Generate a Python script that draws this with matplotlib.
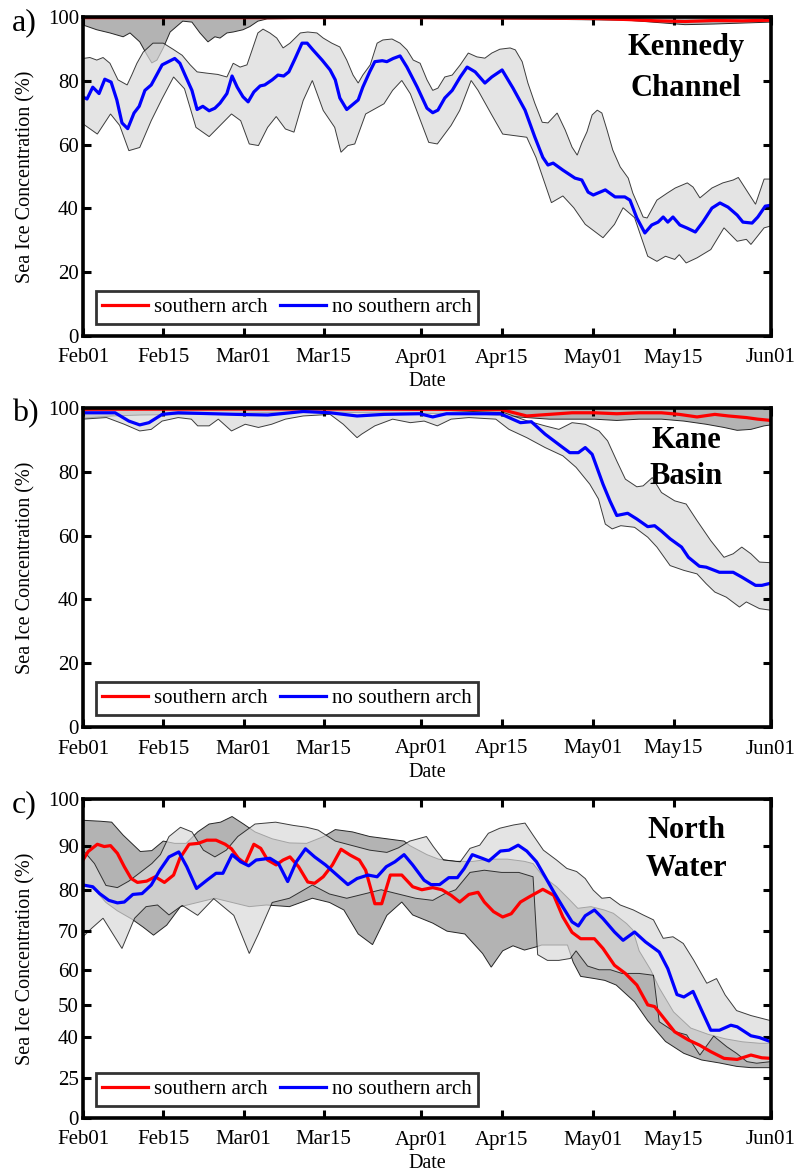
import numpy as np
import matplotlib
matplotlib.use("Agg")
import matplotlib.pyplot as plt

# ---------------- data (days after Feb01; values in %) ----------------
tick_days = [0, 14, 28, 42, 59, 73, 89, 103, 120]
tick_labels = ["Feb01", "Feb15", "Mar01", "Mar15", "Apr01", "Apr15", "May01", "May15", "Jun01"]

# Panel a: Kennedy Channel
a_blue_d = [0, 0.7, 1.7, 2.8, 3.8, 4.9, 5.9, 6.8, 7.8, 8.9, 9.8, 10.8, 11.9, 12.9, 13.8, 16, 16.9, 17.8, 19, 19.9,
            20.9, 22, 23, 23.9, 25.1, 26, 26.9, 27.9, 28.8, 29.8, 30.9, 31.7, 33, 34, 35, 35.9, 37, 38.2, 39.1, 40.1,
            41.7, 43.1, 44, 44.8, 46, 48, 48.8, 50, 50.9, 52.2, 53, 54.1, 55.3, 56.5, 58.3, 60, 61, 61.9, 63.1, 64.4,
            65.8, 67, 68.4, 70.1, 71.3, 73.1, 75, 77.1, 78.8, 80.2, 81.1, 82, 83.7, 85.8, 87, 88.1, 89, 91.1, 92.8, 94.5,
            95.4, 96.6, 98, 99.2, 100.3, 101.2, 102, 102.9, 104.1, 105.4, 106.8, 108.1, 109.7, 111.1, 112.5, 114.1,
            115.1, 116.7, 117.7, 119, 120]
a_blue_v = [74.9, 74.3, 78, 76, 80.5, 79.6, 74, 66.8, 65, 69.9, 72, 77, 78.7, 82, 85, 87, 85.5, 81.8, 77, 71,
            72, 70.6, 71.4, 73, 76, 81.5, 78, 75, 73.4, 76.5, 78.4, 78.7, 80.3, 81.8, 81.5, 82.8, 87, 91.8, 91.8, 89.7,
            86.5, 83.4, 80.3, 74.6, 71, 74, 78, 82.8, 86, 86.3, 86, 87, 87.8, 84.3, 78, 71.4, 70, 70.8, 74.6, 77,
            81.2, 84.3, 82.8, 79.3, 81.2, 83.4, 77.7, 70.8, 62.4, 56, 53.6, 54.2, 52, 49.5, 48.9, 45.1, 44.2, 45.8, 43.6, 43.6,
            42.6, 37, 32.3, 34.8, 35.7, 37.3, 35.7, 37.3, 34.8, 33.8, 32.6, 35.7, 40.1, 41.7, 40.4, 37.9,
            35.7, 35.4, 37.3, 40.7, 41]
a_bup_d = [0, 1.2, 2.4, 3.5, 4.7, 6.1, 7.7, 8.5, 9.4, 10.5, 12.2, 14, 15.7, 17.3, 18.7, 19.9, 21.6, 23.5, 25.1, 26.2,
           27.4, 28.6, 29.5, 30.5, 31.4, 32.6, 33.8, 34.9, 36.1, 37.9, 39.2, 40.8, 41.9, 43.4, 44.8, 46, 47.1, 48, 48.8,
           50.1, 51.3, 52.3, 53.9, 55.3, 56.5, 57.6, 58.8, 60, 61, 61.9, 63.1, 64.4, 65.8, 67.2, 68.7, 70.1, 71.3, 72.7,
           74.5, 75.4, 76.6, 77.6, 78.8, 80.1, 81.1, 82.7, 84.1, 85.3, 86.2, 87, 87.9, 88.8, 89.7, 90.5, 91.4, 92.4,
           93.7, 95.1, 95.9, 97.7, 98.4, 100.1, 101.9, 103.3, 105.4, 106.4, 107.6, 109.7, 111.6, 113.4, 114.3, 117.3,
           118.8, 120]
a_bup_v = [87, 87.3, 86.5, 87.3, 85.5, 80.3, 78.7, 81.8, 85.5, 89, 91.8, 91.8, 89.9, 88, 85, 82.8, 82.4, 82, 81.2, 85.5,
           84.3, 85, 89.7, 95, 96.2, 95, 93.4, 90.3, 91.8, 95, 95.3, 95, 93.4, 91.8, 90.6, 86.5, 81.8, 79.3, 81.8,
           85, 91.8, 92.8, 93.1, 91.8, 89.7, 86.5, 85.5, 80.3, 77, 77.7, 81.2, 81.8, 85, 88.7, 87.5, 87.1, 88.7, 89.9,
           90.3, 89.7, 86, 79.3, 73, 67, 66.8, 69.9, 64.6, 59.2, 56.7, 60.5, 64, 69.3, 70.8, 69.9, 64.6, 58.3,
           53, 49.5, 44.8, 37.3, 37, 42.6, 44.8, 46.4, 48, 46.7, 43.3, 46.4, 48, 48.9, 49.7, 41.3,
           49.2, 49.2]
a_blow_d = [0, 2.5, 4.8, 6.4, 8, 9.9, 11.9, 13.8, 15.8, 17.7, 19.7, 22, 25.9, 27.5, 29, 30.6, 32.2, 33.7, 35.3, 36.8,
            38.4, 40, 41.9, 43.9, 45, 46.2, 47.4, 49.3, 52.5, 54, 55.6, 57.1, 60.3, 61.8, 64.2, 65.7, 67.7, 68.9, 71.2,
            73.2, 77.4, 79, 81.7, 83.7, 85.6, 87.6, 90.7, 92.7, 94.2, 96.2, 98.5, 100.1, 101.6, 103.2, 104, 105.2,
            107.1, 109.5, 111.8, 114.1, 115.7, 116.5, 118.8, 120]
a_blow_v = [66.5, 63.3, 69.6, 66, 58.1, 59.1, 67.5, 74.4, 81.2, 77.5, 65.4, 62.5, 69.6, 67.5, 60.2, 59.7, 65.4, 68.8, 64.9, 63.9,
            73.8, 80.1, 70.7, 65.4, 57.6, 59.7, 60.2, 69.6, 72.8, 77, 80.1, 75.9, 60.7, 60.2, 66, 70.7, 80.1, 77, 69.6,
            63.3, 62.3, 56, 41.8, 43.9, 40.2, 35, 30.8, 35, 40.2, 37.1, 25, 23.4, 25, 24, 25.5, 22.9,
            24.5, 27.1, 33.9, 29.7, 30.3, 28.7, 33.9, 34.5]
a_red_d = [0, 20, 40, 60, 80, 90, 95, 100, 105, 110, 115, 120]
a_red_v = [99.8, 99.8, 99.8, 99.8, 99.7, 99.5, 99.2, 98.8, 98.6, 98.9, 98.8, 99.0]
a_rup_d = [0, 120]
a_rup_v = [100, 100]
a_rlow_d = [0, 2.4, 4.7, 7, 8.2, 9.9, 11.2, 12, 12.9, 14, 15.2, 17.4, 19, 20.4, 21.8, 23, 23.9, 25.1, 26.2, 27.9,
            29.1, 30.5, 32.1, 40, 60, 80, 95, 100, 105, 110, 115, 120]
a_rlow_v = [97.5, 96, 95, 93.8, 95, 92.2, 88, 85.6, 86.5, 90.3, 95.3, 98.7, 98.4, 95, 92.2, 93.8, 93.4, 95, 95.3, 96,
            97, 98.7, 99.4, 99.6, 99.5, 99.3, 99, 98.3, 97.6, 97.8, 98.1, 98.4]

# Panel b: Kane Basin
b_blue_d = [0, 5.6, 8, 9.9, 11.5, 13.8, 16.6, 26.7, 32.2, 38.4, 43.1, 47.8, 52.5, 58.7, 61, 63.4, 72.8, 76.3, 78.2,
            80.6, 83.7, 84.9, 86.4, 87.6, 88.8, 90.7, 91.9, 93.1, 95, 96.6, 98.5, 99.7, 100.9, 102.4, 104.4, 105.6,
            107.5, 108.7, 111, 113.4, 114.9, 117.3, 118.4, 120]
b_blue_v = [98.5, 98.5, 95.9, 94.7, 95.4, 98, 98.5, 98, 97.8, 98.9, 98.5, 97.5, 98, 98.2, 97.2, 98.2, 98.2, 95.4, 95.7,
            91.8, 87.6, 86, 86, 87.6, 85.5, 76.1, 70.9, 66.3, 67, 65.2, 62.8, 63.1, 61.4, 59, 56.4, 53.2,
            50.4, 50.1, 48.5, 48.5, 47, 44.4, 44.4, 45.1]
b_bup_d = [0, 20, 40, 60, 73.5, 77.4, 80.6, 83, 85.3, 87.6, 90, 91.5, 93.1, 94.6, 96.6, 97.7, 99.3, 100.9, 103.2,
           105.2, 107.1, 109.5, 111.8, 113.4, 114.9, 116.5, 118, 120]
b_bup_v = [99.5, 99.6, 99.6, 99.5, 98.5, 96, 94.4, 93.3, 95.4, 94.9, 92.8, 89.7, 83.4, 77.7, 75.3, 75.6, 78.2, 73.5, 70.9,
           69.9, 64.7, 58.4, 53.2, 54.3, 56.4, 54.3, 51.7, 51.5]
b_blow_d = [0, 4.1, 7.2, 9.9, 11.9, 13.8, 16.6, 18.9, 20, 22, 23.6, 25.9, 28.3, 30.6, 32.9, 35.3, 38.4, 43.1, 45.4,
            47.8, 48.6, 50.9, 54, 57.1, 59.5, 61.8, 64.2, 67.3, 72, 74.3, 77.4, 80.6, 83.7, 86, 88.4, 89.9, 91.1, 92.3,
            93.8, 96.2, 98.5, 100.1, 102.4, 104.8, 107.1, 108.7, 110.2, 112.2, 114.5, 115.7, 118, 120]
b_blow_v = [96.5, 97, 94.9, 92.8, 93.3, 95.9, 97, 96.5, 94.4, 94.4, 96.5, 92.8, 94.9, 93.9, 94.9, 96.5, 97.5, 98, 94.9,
            90.7, 91.8, 94.4, 96.5, 95.4, 95.9, 94.4, 96.5, 97, 96.5, 93.3, 90.7, 87.6, 85, 81.4, 76.1, 71.5, 63.6, 62.1,
            63.1, 62.6, 59.5, 56.4, 50.6, 49.1, 48, 44.9, 42.3, 40.7, 37.6, 39.2, 37.1, 36.6]
b_red_d = [0, 40, 73, 77.4, 81.3, 85.3, 89.2, 93.1, 97, 100.9, 104, 107.1, 110.2, 112.6, 115.7, 117.7, 120]
b_red_v = [99.6, 99.7, 99.5, 97.5, 98, 98.5, 98.5, 98.2, 98.5, 98.5, 98, 97.2, 98, 97.5, 97, 96.5, 96.1]
b_rup_d = [0, 120]
b_rup_v = [100, 100]
b_rlow_d = [0, 5, 10, 20, 30, 40, 50, 60, 70, 73.5, 77.4, 81.3, 85.3, 89.2, 93.1, 97, 100.9, 104.8, 108.7, 111.8,
            114.1, 116.5, 118.8, 120]
b_rlow_v = [96.8, 97.5, 97.8, 98, 98.5, 98.8, 98.5, 98.3, 98, 97.5, 97, 96.5, 96.5, 96.5, 96.1, 96.5, 96.5, 95.9, 94.9,
            93.9, 93, 93.3, 94.4, 94.7]

# Panel c: North Water
c_red_d = [0, 0.9, 2.5, 3.7, 4.8, 6, 7.2, 8.4, 9.5, 11.1, 12.6, 14.2, 15.8, 16.9, 18.5, 20.1, 21.6, 23.2, 24.8, 25.9,
           27.1, 28.3, 29.8, 31, 32.2, 33.7, 34.9, 36.1, 37.6, 39.2, 40.4, 41.9, 43.5, 45, 46.6, 48.2, 49.3, 50.1,
           50.9, 52.1, 53.6, 55.6, 57.5, 59.1, 61, 62.6, 64.2, 65.7, 67.3, 68.9, 70, 71.6, 73.2, 74.7, 76.3, 77.8,
           80.2, 82.1, 83.7, 85.3, 86.8, 89.2, 90.7, 92.7, 94.6, 96.6, 98.5, 99.7, 100.9, 103.2, 105.6, 107.5, 109.5,
           111.8, 114.1, 116.5, 118.4, 120]
c_red_v = [86.8, 88.7, 90.3, 89.8, 90, 88.3, 85.3, 82.6, 81.7, 82, 83, 81.7, 83.4, 87.2, 90.3, 90.5, 91.2, 91.2, 90.3, 89.3,
           87.2, 86, 90.3, 89.4, 86.8, 85.7, 86.8, 87.5, 85.3, 81.8, 81.5, 83, 85.7, 89.2, 87.9, 86.8, 84.5, 80.7,
           76.7, 76.7, 83.4, 83.4, 80.7, 80, 80.5, 80, 78.7, 77.1, 78.9, 79.4, 77.1, 74.8, 73.5, 74.3, 77.1, 78.3,
           80.1, 78.7, 73.5, 69.7, 68.1, 68.1, 65.6, 61.2, 59, 55.8, 50.1, 49.6, 47, 41.8, 39.1, 37.4, 35.1,
           32.7, 32.3, 33.9, 32.9, 32.7]
c_blue_d = [0, 1.7, 2.9, 4.5, 6, 7.2, 8.7, 10.3, 11.9, 13.4, 15, 16.7, 18.1, 19.8, 21.6, 23.2, 24.4, 26, 27.5, 28.9,
            30.2, 32.6, 34.1, 35.7, 37.2, 38.8, 40.4, 42.3, 44.3, 46.2, 47.8, 49.7, 51.3, 52.9, 54.4, 56, 57.5, 59.5,
            60.7, 62.2, 63.8, 65.3, 66.5, 67.9, 69.6, 70.8, 72.8, 74.3, 75.9, 77.4, 79.1, 80.6, 82.1, 83.7, 85.3,
            86.4, 87.6, 89.2, 90.7, 92.7, 94.2, 96.2, 98.1, 100.5, 102, 103.6, 104.8, 106.4, 108, 109.5, 111, 113,
            114.1, 116.5, 118, 120]
c_blue_v = [81.1, 80.7, 79.1, 77.5, 76.9, 77.1, 78.9, 79.1, 81.1, 84.5, 87.5, 88.6, 85.3, 80.3, 82.2, 83.8, 83.8, 88, 86.4, 85.5,
            86.8, 87.2, 86, 81.9, 86.4, 89.3, 87.5, 85.7, 83.4, 81.2, 82.6, 83.4, 83, 85.3, 86.4, 88, 85.7, 82.2,
            81.2, 81.2, 82.8, 82.8, 84.9, 88, 87.2, 86.6, 88.8, 89, 90.1, 88.8, 86.4, 83, 79.5, 75.9, 72.3,
            71.3, 73.8, 75.2, 73.1, 69.8, 67.7, 69.8, 67.3, 64.7, 60.3, 53.1, 52.4, 54, 48.1, 42.3, 42.3, 43.9,
            43.4, 40.5, 39.9, 38.5]
c_bup_d = [0, 2, 4, 6, 8, 10, 12, 13.5, 15, 17, 19, 21, 23, 25, 27, 30, 33.6, 36.7, 39, 41, 44, 47, 50, 53, 55,
           57, 59.9, 61.1, 62.9, 65.8, 67.5, 69.2, 70.7, 72.7, 75.1, 77.1, 78.5, 80.3, 82.6, 84.4, 86.1, 87.6, 89, 90.5,
           91.9, 93.7, 96, 97.7, 99.5, 101.2, 102.9, 104.7, 106.5, 108.8, 110.5, 112, 114, 116.5, 120]
c_bup_v = [89, 86, 81, 80.5, 82, 84, 86, 88, 92, 94, 93, 89, 87.5, 89, 92, 94.7, 95.1, 94.4, 94, 93.4, 91, 90, 89,
           88.5, 89.5, 91, 92, 89.8, 86.8, 86.4, 89.4, 90.1, 92.7, 93.8, 94.5, 94.9, 92.3, 89, 86.8, 84.9, 84.2, 82.6,
           79.9, 78, 78.2, 76.4, 75.2, 74, 72.8, 68.2, 68.6, 66.9, 62.6, 56.3, 57.6, 53, 48.4, 46.9, 45.3]
c_blow_d = [0, 1.5, 3.5, 6.8, 9, 11, 13, 15, 17.3, 20, 22.8, 26.3, 29, 30.6, 33, 36, 40, 43, 46, 49, 52, 55, 58, 61,
            63, 65, 67.5, 70, 73, 76, 78.5, 79.3, 81, 83, 85, 86, 88, 90, 92, 94, 97, 99.5, 100.5, 103, 105.3, 107.6,
            110, 112.3, 114, 115.8, 117.5, 120]
c_blow_v = [68.6, 70.7, 73.2, 65.6, 73.2, 76, 76.4, 74, 76.3, 73.9, 77.9, 73.9, 64.3, 69.3, 77, 78, 81.1, 79, 78, 79,
            80, 79, 78, 77.5, 79, 80, 84, 84.5, 84, 84, 83, 64, 62.5, 62.5, 63, 65, 61, 60, 60, 59, 59, 58.5, 45, 42,
            40.8, 33.9, 40.4, 36.8, 34.5, 31.5, 30.9, 31.5]
c_rup_d = [0, 3, 5, 7, 10, 12, 14, 16, 18, 20, 22, 24, 26, 28, 30, 33, 36, 39, 42, 44, 47, 50, 53, 56, 57, 60, 62, 65,
           68, 71, 74, 77, 78.5, 80.3, 82.6, 84.9, 86.3, 88.6, 90.9, 92.5, 94.8, 95.9, 97, 99, 100.5, 103, 106, 109,
           112, 115, 118, 120]
c_rup_v = [95.5, 95.3, 95.1, 92.3, 88.7, 88.9, 91, 90.5, 90.5, 93, 94.7, 95.1, 96.3, 94.7, 93, 91.5, 90.6, 90.5, 92,
           93.5, 93, 92, 91.5, 91, 90, 88, 87, 86.5, 86.5, 87, 87, 86.5, 86, 83, 80.7, 77.6, 75.6, 76, 75.2, 74.4, 71.9,
           70.3, 65, 60, 55, 48, 43, 41, 39.5, 38.5, 38, 38]
c_rlow_d = [0, 2, 4, 6, 8.5, 10.5, 12.3, 14.6, 17, 20, 23, 26, 29, 32, 36, 40, 43, 45.5, 48, 50.5, 53, 55.6, 57.5,
            61, 63.5, 66.6, 69.7, 71.2, 73.2, 75, 77, 79, 80, 82, 84.5, 85.5, 86.8, 89.2, 91, 93, 96.2, 98.5, 101.6,
            104.8, 107.9, 111, 114, 116.5, 120]
c_rlow_v = [81.5, 80, 77, 75, 73, 71, 69, 71.5, 76, 77, 78, 77, 76, 76.4, 76, 78, 77, 75.2, 69.3, 66.6, 73.9, 77.1,
            74, 72, 70, 69.3, 64.3, 60.7, 65, 66.3, 65.2, 66, 66.5, 66.5, 66.5, 62, 58.2, 57.6, 57.1, 55.8, 51, 45.3,
            38.6, 34.5, 32.1, 31, 29.7, 29.2, 29.2]

region_names = ["Kennedy\nChannel", "Kane\nBasin", "North\nWater"]
panel_letters = ["a)", "b)", "c)"]
legend_labels = ["southern arch", "no southern arch"]

# ---------------- drawing ----------------
plt.rcParams['font.family'] = ['Liberation Serif', 'DejaVu Serif']

fig = plt.figure(figsize=(7.95, 11.75), dpi=100)
W, H = 795, 1175
boxes = [(83, 17, 771, 336), (83, 408, 771, 727), (83, 799, 771, 1118)]

RED_FACE = (0.70, 0.70, 0.70)
BLUE_FACE = (0.85, 0.85, 0.85, 0.70)


def band(ax, xu, yu, xl, yl, face, edge, zorder):
    xs = np.concatenate([np.asarray(xu, float), np.asarray(xl, float)[::-1]])
    ys = np.concatenate([np.asarray(yu, float), np.asarray(yl, float)[::-1]])
    ax.fill(xs, ys, facecolor=face, edgecolor=edge, linewidth=0.7, zorder=zorder)


def fwd(y):
    y = np.asarray(y, float)
    return np.sign(y) * np.abs(y) ** 1.5


def inv(y):
    y = np.asarray(y, float)
    return np.sign(y) * np.abs(y) ** (1 / 1.5)


panels = [
    dict(red=(a_red_d, a_red_v), blue=(a_blue_d, a_blue_v),
         rb=(a_rup_d, a_rup_v, a_rlow_d, a_rlow_v), bb=(a_bup_d, a_bup_v, a_blow_d, a_blow_v)),
    dict(red=(b_red_d, b_red_v), blue=(b_blue_d, b_blue_v),
         rb=(b_rup_d, b_rup_v, b_rlow_d, b_rlow_v), bb=(b_bup_d, b_bup_v, b_blow_d, b_blow_v)),
    dict(red=(c_red_d, c_red_v), blue=(c_blue_d, c_blue_v),
         rb=(c_rup_d, c_rup_v, c_rlow_d, c_rlow_v), bb=(c_bup_d, c_bup_v, c_blow_d, c_blow_v)),
]
text_centers = [(686, 48, 88), (686, 441, 477), (686, 831, 868)]

for i, (p, box) in enumerate(zip(panels, boxes)):
    l, t, r, b = box
    ax = fig.add_axes([l / W, 1 - b / H, (r - l) / W, (b - t) / H])
    if i == 2:
        ax.set_yscale('function', functions=(fwd, inv))
    band(ax, *p['rb'], face=RED_FACE, edge=(0.15, 0.15, 0.15), zorder=1.0)
    band(ax, *p['bb'], face=BLUE_FACE, edge=(0, 0, 0, 0.75), zorder=1.2)
    lr, = ax.plot(*p['red'], color='#ff0000', lw=2.3, zorder=4, solid_joinstyle='round')
    lb, = ax.plot(*p['blue'], color='#0000ff', lw=2.3, zorder=5, solid_joinstyle='round')
    ax.set_xlim(0, 120)
    ax.set_ylim(0, 100)
    ax.set_xticks(tick_days)
    ax.set_xticklabels(tick_labels)
    if i == 2:
        ax.set_yticks([0, 25, 40, 50, 60, 70, 80, 90, 100])
    else:
        ax.set_yticks([0, 20, 40, 60, 80, 100])
    ax.minorticks_off()
    ax.tick_params(direction='in', length=6, width=2.2, top=True, right=True,
                   labelsize=15, colors='black')
    ax.tick_params(axis='x', pad=9)
    ax.tick_params(axis='y', pad=3)
    for s in ax.spines.values():
        s.set_linewidth(2.6)
        s.set_zorder(6)
    ax.set_xlabel('Date', fontsize=14.5, labelpad=3)
    ax.set_ylabel('Sea Ice Concentration (%)', fontsize=14.5, labelpad=9)
    leg = ax.legend([lr, lb], legend_labels, loc='lower left', ncol=2, fontsize=15,
                    frameon=True, fancybox=False, borderaxespad=0.6, handlelength=2.2,
                    handletextpad=0.3, columnspacing=0.6, borderpad=0.3)
    leg.get_frame().set_edgecolor('black')
    leg.get_frame().set_linewidth(2.0)
    leg.set_zorder(10)
    cx, y1, y2 = text_centers[i]
    name1, name2 = region_names[i].split("\n")
    fig.text(cx / W, 1 - y1 / H, name1, ha='center', va='center', fontsize=22, fontweight='bold')
    fig.text(cx / W, 1 - y2 / H, name2, ha='center', va='center', fontsize=22, fontweight='bold')
    fig.text(12 / W, 1 - (t + 6) / H, panel_letters[i], ha='left', va='center', fontsize=23)

fig.savefig('out.png', dpi=100)
